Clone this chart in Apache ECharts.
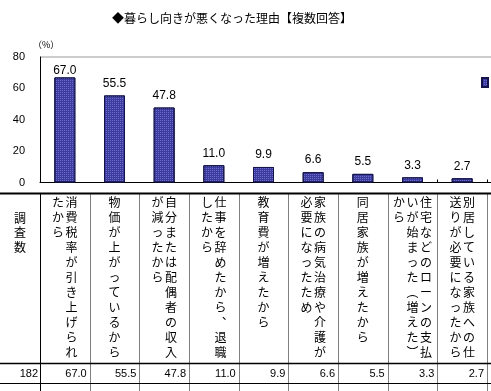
<!DOCTYPE html>
<html><head><meta charset="utf-8">
<script src="https://cdn.jsdelivr.net/npm/echarts@6/dist/echarts.min.js"></script>
<style>html,body{margin:0;padding:0;background:#fff}#c{width:491px;height:391px}</style>
</head><body><div id="c"></div>
<script>
const titleText = '◆暮らし向きが悪くなった理由【複数回答】';
const unitText = '（%）';
const categories = [
  '消費税率が引き上げられたから',
  '物価が上がっているから',
  '自分または配偶者の収入が減ったから',
  '仕事を辞めたから、退職したから',
  '教育費が増えたから',
  '家族の病気治療や介護が必要になったため',
  '同居家族が増えたから',
  '住宅などのローンの支払いが始まった（増えた）から',
  '別居している家族への仕送りが必要になったから'
];
// vertical header lines, right-to-left column order
const headerColumns = [
  ['消費税率が引き上げられ', 'たから'],
  ['物価が上がっているから'],
  ['自分または配偶者の収入', 'が減ったから'],
  ['仕事を辞めたから︑退職', 'したから'],
  ['教育費が増えたから'],
  ['家族の病気治療や介護が', '必要になったため'],
  ['同居家族が増えたから'],
  ['住宅などのローンの支払', 'いが始まった︵増えた︶', 'から'],
  ['別居している家族への仕', '送りが必要になったから']
];
const values = [67.0, 55.5, 47.8, 11.0, 9.9, 6.6, 5.5, 3.3, 2.7];
const sampleLabel = '調査数';
const sampleSize = 182;
const yTicks = [0, 20, 40, 60, 80];

const JP = '"Noto Sans CJK JP", sans-serif';
const NUM = '"Liberation Sans", Arial, sans-serif';
const chart = echarts.init(document.getElementById('c'), null, {renderer: 'canvas'});

const option = {
  animation: false,
  title: {
    text: titleText, left: 227, top: 7, textAlign: 'center',
    textStyle: {fontFamily: JP, fontSize: 12, fontWeight: 'normal', color: '#000'}
  },
  legend: {
    show: true, left: 481, top: 77, itemWidth: 6, itemHeight: 9, padding: 0, icon: 'rect',
    formatter: function () { return ''; }, data: ['理由']
  },
  grid: {left: 40, right: 4, top: 57, bottom: 208.5, containLabel: false},
  xAxis: {
    type: 'category', data: categories, boundaryGap: true,
    axisLine: {show: true, lineStyle: {color: '#000', width: 1}},
    axisTick: {show: true, inside: true, length: 3, lineStyle: {color: '#000'}},
    axisLabel: {show: false}
  },
  yAxis: {
    type: 'value', min: yTicks[0], max: yTicks[yTicks.length - 1], interval: 20,
    axisLine: {show: true, lineStyle: {color: '#000', width: 1}},
    axisTick: {show: false},
    splitLine: {show: false},
    axisLabel: {margin: 15, fontFamily: NUM, fontSize: 11, color: '#000'}
  },
  series: [{
    name: '理由', type: 'bar', barWidth: 21,
    data: values.map((v, i) => i === 0 ? {value: v, label: {distance: 1}} : v),
    itemStyle: {
      color: '#3c3ca0', borderColor: '#14144a', borderWidth: 1,
      decal: {symbol: 'rect', symbolSize: 1, color: 'rgba(150,150,235,0.55)', dashArrayX: [1, 1], dashArrayY: [1, 1], rotation: 0}
    },
    label: {
      show: true, position: 'top', distance: 6,
      formatter: p => p.value.toFixed(1),
      fontFamily: NUM, fontSize: 12, color: '#000'
    }
  }]
};
chart.setOption(option);

function buildGraphics() {
  const els = [];
  const c0 = chart.convertToPixel({xAxisIndex: 0}, 0);
  const c1 = chart.convertToPixel({xAxisIndex: 0}, 1);
  const band = c1 - c0;
  const left = c0 - band / 2;
  const right = left + band * categories.length;
  const yTop = chart.convertToPixel({yAxisIndex: 0}, yTicks[yTicks.length - 1]);
  const yZero = chart.convertToPixel({yAxisIndex: 0}, 0);
  const W = 491, H = 391;
  els.push({type: 'line', shape: {x1: left, y1: yTop, x2: W, y2: yTop}, style: {stroke: '#9a9a9a', lineWidth: 1}, silent: true});
  els.push({type: 'line', shape: {x1: right, y1: yZero, x2: W, y2: yZero}, style: {stroke: '#000', lineWidth: 1}, silent: true});
  els.push({type: 'text', left: 33, top: 40, style: {text: unitText, font: '9px ' + JP, fill: '#000'}});
  const tTop = 193.5, tHead = 363.5, tRow = 383.5;
  els.push({type: 'line', shape: {x1: 0, y1: tTop, x2: W, y2: tTop}, style: {stroke: '#000', lineWidth: 2}, silent: true});
  els.push({type: 'line', shape: {x1: 0, y1: tHead, x2: W, y2: tHead}, style: {stroke: '#000', lineWidth: 1.5}, silent: true});
  els.push({type: 'line', shape: {x1: 0, y1: tRow, x2: W, y2: tRow}, style: {stroke: '#000', lineWidth: 1}, silent: true});
  els.push({type: 'line', shape: {x1: left + 0.5, y1: tTop, x2: left + 0.5, y2: H}, style: {stroke: '#000', lineWidth: 1}, silent: true});
  for (let i = 1; i <= categories.length; i++) {
    const x = Math.round(left + band * i) + 0.5;
    els.push({type: 'line', shape: {x1: x, y1: tTop + 1, x2: x, y2: H}, style: {stroke: '#000', lineWidth: 1, lineDash: [1, 1]}, silent: true});
  }
  els.push({type: 'text', x: left / 2, y: 211, style: {text: sampleLabel.split('').join('\n'), font: '12px ' + JP, lineHeight: 14.5, align: 'center', verticalAlign: 'top', fill: '#000'}});
  els.push({type: 'text', x: left - 2, y: (tHead + tRow) / 2, style: {text: String(sampleSize), font: '11px ' + NUM, align: 'right', verticalAlign: 'middle', fill: '#000'}});
  const colGap = 13.5;
  headerColumns.forEach((cols, i) => {
    const cx = chart.convertToPixel({xAxisIndex: 0}, i);
    const n = cols.length;
    cols.forEach((col, k) => {
      const x = cx + ((n - 1) / 2 - k) * colGap;
      els.push({type: 'text', x: x, y: 194.5, style: {text: col.split('').join('\n'), font: '12px ' + JP, lineHeight: 15, align: 'center', verticalAlign: 'top', fill: '#000'}});
    });
    els.push({type: 'text', x: left + band * (i + 1) - 3, y: (tHead + tRow) / 2, style: {text: values[i].toFixed(1), font: '11px ' + NUM, align: 'right', verticalAlign: 'middle', fill: '#000'}});
  });
  chart.setOption({graphic: {elements: els}});
}
buildGraphics();
</script>
</body></html>
